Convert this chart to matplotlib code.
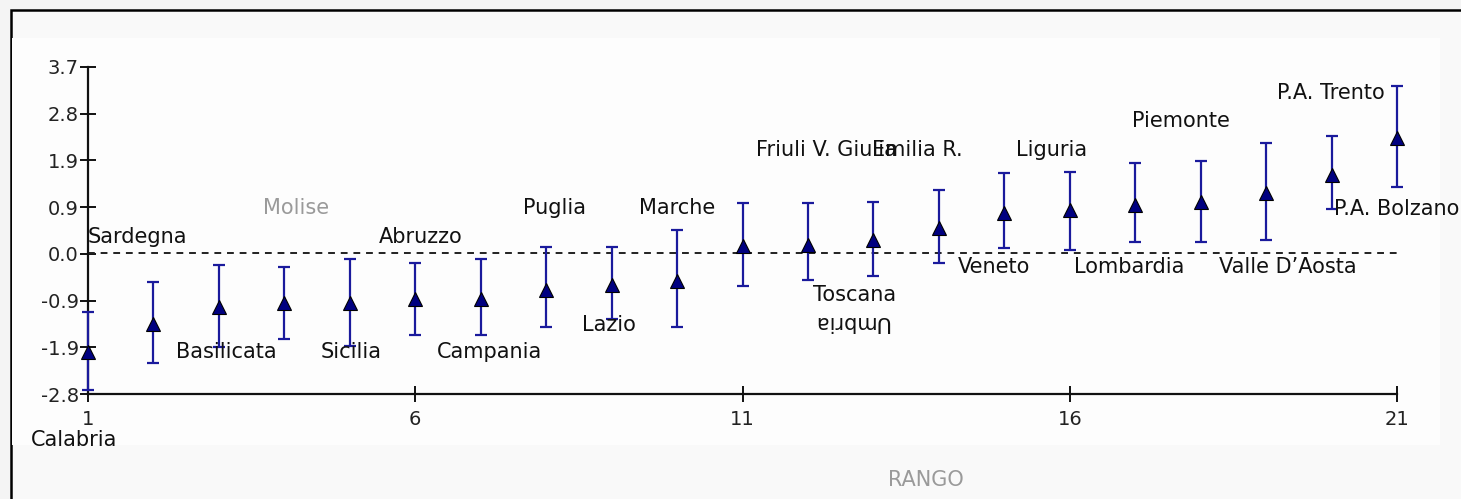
import numpy as np
import matplotlib
matplotlib.use('Agg')
import matplotlib.pyplot as plt
from matplotlib.patches import Rectangle

# regional estimates ordered by rank, with lower/upper interval bounds
rank = list(range(1, 22))
regions = ["Calabria", "Sardegna", "Basilicata", "Molise", "Sicilia", "Abruzzo",
           "Campania", "Puglia", "Lazio", "Marche", "Friuli V. Giulia", "Toscana",
           "Umbria", "Emilia R.", "Veneto", "Liguria", "Lombardia", "Piemonte",
           "Valle D\u2019Aosta", "P.A. Bolzano", "P.A. Trento"]
estimate = [-1.97, -1.41, -1.07, -1.00, -1.00, -0.92, -0.92, -0.74, -0.64, -0.56,
            0.14, 0.16, 0.26, 0.50, 0.80, 0.85, 0.95, 1.01, 1.19, 1.55, 2.29]
lower = [-2.72, -2.19, -1.87, -1.71, -1.85, -1.63, -1.63, -1.47, -1.30, -1.47,
         -0.66, -0.54, -0.46, -0.20, 0.10, 0.06, 0.22, 0.22, 0.26, 0.87, 1.31]
upper = [-1.17, -0.58, -0.24, -0.28, -0.12, -0.20, -0.12, 0.12, 0.12, 0.46,
         0.99, 0.99, 1.01, 1.25, 1.59, 1.61, 1.79, 1.83, 2.19, 2.33, 3.32]

y_ticklabels = ["-2.8", "-1.9", "-0.9", "0.0", "0.9", "1.9", "2.8", "3.7"]
x_ticks = [1, 6, 11, 16, 21]

# where each region name sits (data coords, left edge, vertical centre)
label_pos = {
    "Calabria": (0.13, -3.72), "Sardegna": (1.0, 0.32), "Basilicata": (2.34, -1.97),
    "Molise": (3.67, 0.9), "Sicilia": (4.55, -1.97), "Abruzzo": (5.45, 0.32),
    "Campania": (6.33, -1.97), "Puglia": (7.65, 0.9), "Lazio": (8.55, -1.43),
    "Marche": (9.42, 0.9), "Friuli V. Giulia": (11.2, 2.05), "Toscana": (12.08, -0.84),
    "Umbria": (12.66, -1.37), "Emilia R.": (12.98, 2.05), "Veneto": (14.29, -0.27),
    "Liguria": (15.18, 2.05), "Lombardia": (16.06, -0.27), "Piemonte": (16.95, 2.62),
    "Valle D\u2019Aosta": (18.28, -0.27), "P.A. Bolzano": (20.04, 0.88),
    "P.A. Trento": (19.17, 3.18),
}

fig = plt.figure(figsize=(14.61, 4.99), dpi=100)
fig.patch.set_facecolor("#f4f4f4")

# slide panel with its black frame, lighter where the chart sits
fig.patches.append(Rectangle((11 / 1461, -0.05), 1.1, 1 - 10 / 499 + 0.05,
                             transform=fig.transFigure, facecolor="#f9f9f9",
                             edgecolor="black", linewidth=1.8, zorder=-10))
fig.patches.append(Rectangle((12 / 1461, 1 - 445 / 499), (1440 - 12) / 1461,
                             (445 - 38) / 499, transform=fig.transFigure,
                             facecolor="#fdfdfd", edgecolor="none", zorder=-9))

ax = fig.add_axes([88 / 1461, 1 - 394 / 499, (1397 - 88) / 1461, (394 - 67) / 499])
ax.set_facecolor("none")

est = np.array(estimate)
yerr = np.vstack([est - np.array(lower), np.array(upper) - est])
ax.errorbar(rank, est, yerr=yerr, fmt="none", ecolor="#1a1a9c", elinewidth=1.6,
            capsize=4.5, capthick=1.6, clip_on=False, zorder=3)
ax.plot(rank, est, linestyle="none", marker="^", markersize=10, color="#000080",
        markeredgecolor="black", markeredgewidth=0.8, clip_on=False, zorder=4)

ax.plot([1, 21], [0, 0], linestyle=(0, (3.5, 3)), color="#222222", linewidth=1.4, zorder=2)

ax.set_xlim(1, 21)
ax.set_ylim(-2.8, 3.7)
ax.set_yticks(np.linspace(-2.8, 3.7, len(y_ticklabels)))
ax.set_yticklabels(y_ticklabels)
ax.set_xticks(x_ticks)
ax.set_xticklabels([str(t) for t in x_ticks])
for s in ["top", "right"]:
    ax.spines[s].set_visible(False)
for s in ["left", "bottom"]:
    ax.spines[s].set_linewidth(1.6)
    ax.spines[s].set_color("#111111")
ax.tick_params(direction="inout", length=11, width=1.4, colors="#111111",
               labelsize=14, pad=1)
ax.tick_params(axis="x", pad=6)
for t in ax.get_xticklabels() + ax.get_yticklabels():
    t.set_color("#222222")

for name in regions:
    x, y = label_pos[name]
    kw = dict(fontsize=15, family="DejaVu Sans", va="center", ha="left",
              color="#111111", clip_on=False)
    if name == "Molise":
        kw["color"] = "#9a9a9a"
    if name == "Umbria":
        # printed upside down
        kw["rotation"] = 180
        kw["ha"] = "center"
    ax.text(x, y, name, **kw)

fig.text(888 / 1461, 1 - 480 / 499, "RANGO", fontsize=15, family="DejaVu Sans",
         color="#9a9a9a", va="center", ha="left")

fig.savefig("out.png", dpi=100, facecolor=fig.get_facecolor())
